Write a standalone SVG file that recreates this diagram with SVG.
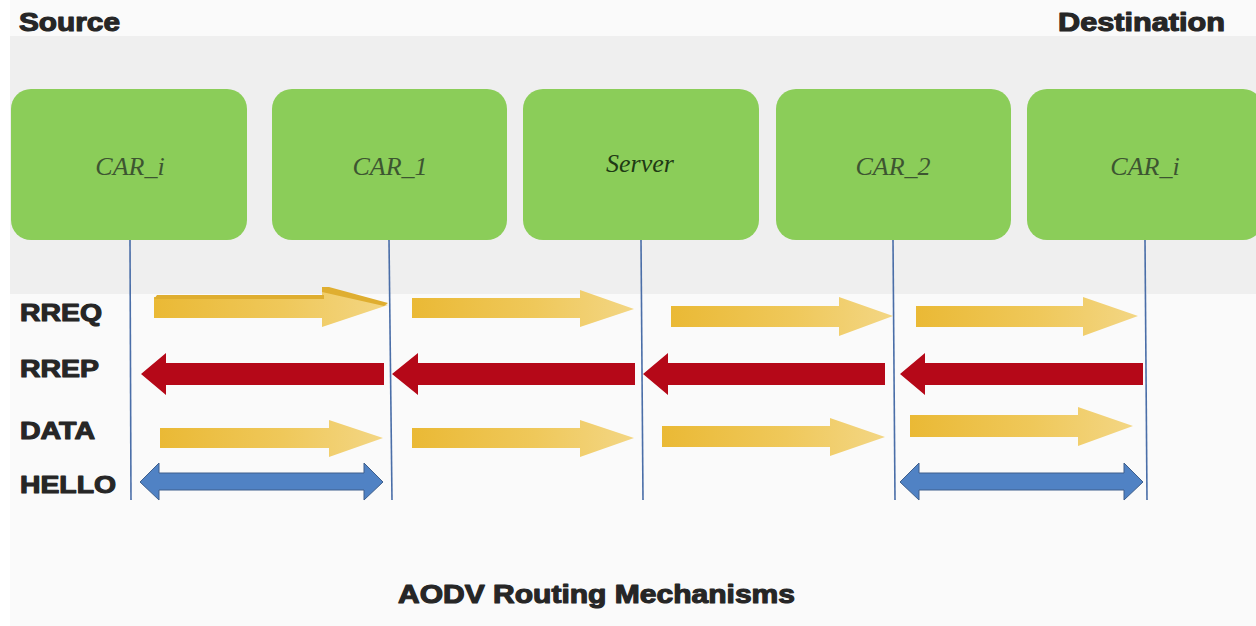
<svg xmlns="http://www.w3.org/2000/svg" width="1256" height="626" viewBox="0 0 1256 626">
  <defs>
    <linearGradient id="gold" x1="0" y1="0" x2="1" y2="0">
      <stop offset="0" stop-color="#eab935"/>
      <stop offset="0.55" stop-color="#efc85a"/>
      <stop offset="1" stop-color="#f3d684"/>
    </linearGradient>
    <style>
      .node { fill: #8bcd59; }
      .nlabel { font-family: "Liberation Serif", "Times New Roman", serif; font-style: italic; font-size: 26px; fill: #3d5531; text-anchor: middle; }
      .head { font-family: "Liberation Sans", Arial, sans-serif; font-weight: bold; fill: #262626; stroke: #262626; stroke-width: 1.1; stroke-linejoin: round; }
      .life { stroke: #4a6ea8; stroke-width: 1.6; fill: none; }
      .req { fill: url(#gold); }
      .rep { fill: #b50818; }
      .hello { fill: #5082c4; stroke: #3e5f8c; stroke-width: 1; }
    </style>
  </defs>

  <!-- page background and shaded node band -->
  <rect x="0" y="0" width="1256" height="626" fill="#ffffff"/>
  <rect x="10" y="0" width="1246" height="626" fill="#fafafa"/>
  <rect x="10" y="36" width="1246" height="258" fill="#efefef"/>

  <!-- end-point captions -->
  <text class="head" x="19" y="31" font-size="25" textLength="101" lengthAdjust="spacingAndGlyphs">Source</text>
  <text class="head" x="1058" y="31" font-size="25" textLength="167" lengthAdjust="spacingAndGlyphs">Destination</text>

  <!-- nodes -->
  <g id="car-i-src">
    <rect class="node" x="11" y="89" width="236" height="151" rx="20"/>
    <text class="nlabel" x="130" y="175">CAR_i</text>
  </g>
  <g id="car-1">
    <rect class="node" x="272" y="89" width="235" height="151" rx="20"/>
    <text class="nlabel" x="390" y="175">CAR_1</text>
  </g>
  <g id="server">
    <rect class="node" x="523" y="89" width="236" height="151" rx="20"/>
    <text class="nlabel" x="640" y="172" style="fill:#1f3a14">Server</text>
  </g>
  <g id="car-2">
    <rect class="node" x="776" y="89" width="235" height="151" rx="20"/>
    <text class="nlabel" x="893" y="175">CAR_2</text>
  </g>
  <g id="car-i-dst">
    <rect class="node" x="1027" y="89" width="236" height="151" rx="20"/>
    <text class="nlabel" x="1145" y="175">CAR_i</text>
  </g>

  <!-- message type labels -->
  <g id="row-labels">
    <text class="head" x="20" y="321" font-size="24" textLength="82" lengthAdjust="spacingAndGlyphs">RREQ</text>
    <text class="head" x="20" y="377" font-size="24" textLength="79" lengthAdjust="spacingAndGlyphs">RREP</text>
    <text class="head" x="20" y="439" font-size="24" textLength="75" lengthAdjust="spacingAndGlyphs">DATA</text>
    <text class="head" x="20" y="493" font-size="24" textLength="96" lengthAdjust="spacingAndGlyphs">HELLO</text>
  </g>

  <g id="connectors">
    <!-- node lifelines -->
    <line class="life" x1="130" y1="240" x2="131" y2="500"/>
    <line class="life" x1="389" y1="240" x2="392" y2="500"/>
    <line class="life" x1="641" y1="240" x2="643" y2="500"/>
    <line class="life" x1="893" y1="240" x2="895" y2="500"/>
    <line class="life" x1="1145" y1="240" x2="1147" y2="500"/>

    <!-- RREQ hops (first one drawn with a bevelled top face) -->
    <polygon class="req" points="154,297 322,297 322,287 388,305 322,327 322,318 154,318"/>
    <polygon fill="#dfae30" points="157,295 324,295 324,299 154,299"/>
    <polygon fill="#dfae30" points="322,287 329,287 388,303 384,306 322,292"/>
    <polygon class="req" points="412,298 580,298 580,290 634,309 580,327 580,318 412,318"/>
    <polygon class="req" points="671,306 839,306 839,297 893,316 839,336 839,327 671,327"/>
    <polygon class="req" points="916,306 1083,306 1083,297 1138,316 1083,336 1083,327 916,327"/>

    <!-- RREP hops -->
    <polygon class="rep" points="141,374 166,353 166,363 384,363 384,385 166,385 166,395"/>
    <polygon class="rep" points="392,374 418,353 418,363 635,363 635,385 418,385 418,395"/>
    <polygon class="rep" points="643,374 668,353 668,363 885,363 885,385 668,385 668,395"/>
    <polygon class="rep" points="900,374 925,353 925,363 1143,363 1143,385 925,385 925,395"/>

    <!-- DATA hops -->
    <polygon class="req" points="160,428 329,428 329,420 383,438 329,457 329,448 160,448"/>
    <polygon class="req" points="412,428 580,428 580,420 634,438 580,457 580,448 412,448"/>
    <polygon class="req" points="662,426 830,426 830,418 885,437 830,456 830,447 662,447"/>
    <polygon class="req" points="910,415 1078,415 1078,407 1133,426 1078,446 1078,437 910,437"/>

    <!-- HELLO exchanges -->
    <polygon class="hello" points="140,482 159,463 159,473 364,473 364,463 383,482 364,500 364,490 159,490 159,500"/>
    <polygon class="hello" points="900,482 919,463 919,473 1124,473 1124,463 1143,482 1124,500 1124,490 919,490 919,500"/>
  </g>

  <!-- caption -->
  <text class="head" x="398" y="603" font-size="25" textLength="397" lengthAdjust="spacingAndGlyphs">AODV Routing Mechanisms</text>
</svg>
